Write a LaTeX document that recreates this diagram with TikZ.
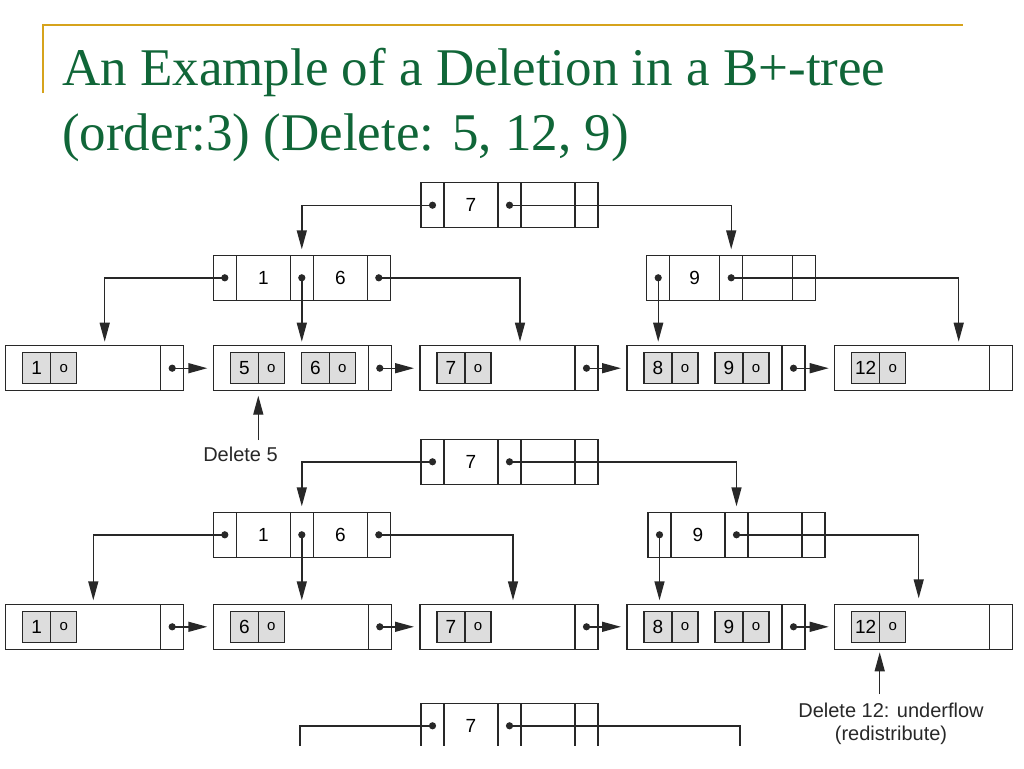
\documentclass[tikz,border=0pt]{standalone}
\usepackage{fontspec}
\setmainfont{Liberation Serif}
\newfontfamily\figfont{Liberation Sans}
\usetikzlibrary{positioning,arrows.meta}

\definecolor{titlegreen}{RGB}{16,102,56}
\definecolor{rulegold}{RGB}{214,163,28}
\definecolor{keygray}{RGB}{221,221,221}
\definecolor{inkgray}{RGB}{40,40,40}

\tikzset{
  cell/.style={draw=inkgray, line width=1.4pt, minimum height=45pt, inner sep=0pt, outer sep=0pt, font=\figfont\fontsize{19}{19}\selectfont},
  ptrcell/.style={cell, minimum width=23pt},
  keycell/.style={cell, minimum width=#1},
  keycell/.default=54pt,
  leafcell/.style={cell, minimum width=155pt},
  keypart/.style={draw=inkgray, fill=keygray, line width=1.3pt, minimum height=31pt, minimum width=28pt, inner sep=0pt, outer sep=0pt, font=\figfont\fontsize{19}{19}\selectfont},
  ptrpart/.style={keypart, minimum width=26pt, font=\figfont\fontsize{15}{15}\selectfont},
  link/.style={draw=inkgray, line width=1.4pt, -{Triangle[length=19pt,width=10pt]}},
  plainlink/.style={draw=inkgray, line width=1.4pt},
  note/.style={font=\figfont\fontsize{20}{23}\selectfont, text=inkgray, inner sep=0pt, align=center, anchor=north},
  titletext/.style={font=\fontsize{53}{65}\selectfont, text=titlegreen, anchor=base west, inner sep=0pt}
}

% inner node: [key width]{name}{x}{y}{key 1}{key 2}
\newcommand{\innode}[6][54pt]{%
  \node[ptrcell, anchor=north west] (#2a) at (#3,#4) {};
  \node[keycell=#1, right=0pt of #2a] (#2b) {#5};
  \node[ptrcell, right=0pt of #2b] (#2c) {};
  \node[keycell=#1, right=0pt of #2c] (#2d) {#6};
  \node[ptrcell, right=0pt of #2d] (#2e) {};
}
% leaf: {name}{x}{y}
\newcommand{\leafnode}[3]{%
  \node[leafcell, anchor=north west] (#1) at (#2,#3) {};
  \node[ptrcell, right=0pt of #1] (#1p) {};
}
% key with record pointer: {name}{leaf}{offset}{key}
\newcommand{\leafkey}[4]{%
  \node[keypart, right=#3 of #2.west] (#1) {#4};
  \node[ptrpart, right=0pt of #1] (#1o) {o};
}
\newcommand{\ptrdot}[1]{\fill[inkgray] (#1.center) circle (3.6pt);}

\begin{document}
\begin{tikzpicture}[x=1pt, y=-1pt]
\useasboundingbox (0,0) rectangle (1024,768);
\fill[white] (0,0) rectangle (1024,768);

% title
\draw[rulegold, line width=2pt] (42.7,93) -- (42.7,25) -- (963,25);
\node[titletext] (titleA) at (62,85) {An Example of a Deletion in a B+-tree};
\node[titletext] (titleB) at (62,150) {(order:3) (Delete: 5, 12, 9)};

% first tree
\innode{rA}{421}{182.7}{7}{}
\innode{bA}{213.3}{255.3}{1}{6}
\innode[50pt]{cA}{646.7}{255.3}{9}{}
\leafnode{lA1}{5.7}{345.7}
\leafnode{lA2}{213.3}{345.7}
\leafnode{lA3}{420}{345.7}
\leafnode{lA4}{627}{345.7}
\leafnode{lA5}{834.7}{345.7}
\leafkey{kA1a}{lA1}{17pt}{1}
\leafkey{kA2a}{lA2}{17pt}{5}
\leafkey{kA2b}{lA2}{88pt}{6}
\leafkey{kA3a}{lA3}{17pt}{7}
\leafkey{kA4a}{lA4}{17pt}{8}
\leafkey{kA4b}{lA4}{88pt}{9}
\leafkey{kA5a}{lA5}{17pt}{12}

\draw[link, shorten >=6pt] (rAa.center) -| (bAc.north);
\draw[link, shorten >=6pt] (rAc.center) -| (cAc.north);
\draw[link, shorten >=4pt] (bAa.center) -| ([xshift=99pt]lA1.north west);
\draw[link, shorten >=4pt] (bAc.center) -- (bAc.center |- lA2.north);
\draw[link, shorten >=4pt] (bAe.center) -| ([xshift=100pt]lA3.north west);
\draw[link, shorten >=4pt] (cAa.center) -- (cAa.center |- lA4.north);
\draw[link, shorten >=4pt] (cAc.center) -| ([xshift=124pt]lA5.north west);
\draw[link, shorten >=6pt] (lA1p.center) -- (lA2.west);
\draw[link, shorten >=6pt] (lA2p.center) -- (lA3.west);
\draw[link, shorten >=6pt] (lA3p.center) -- (lA4.west);
\draw[link, shorten >=6pt] (lA4p.center) -- (lA5.west);
\ptrdot{rAa} \ptrdot{rAc}
\ptrdot{bAa} \ptrdot{bAc} \ptrdot{bAe}
\ptrdot{cAa} \ptrdot{cAc}
\ptrdot{lA1p} \ptrdot{lA2p} \ptrdot{lA3p} \ptrdot{lA4p}

\node[note] (delfive) at (240.5,447) {Delete 5};
\draw[link, shorten <=7pt, shorten >=5pt] (delfive.north -| kA2a.east) -- (kA2a.east |- lA2.south);

% second tree
\innode{rB}{421}{439.3}{7}{}
\innode{bB}{213.3}{512.3}{1}{6}
\innode{cB}{648}{512.3}{9}{}
\leafnode{lB1}{5.7}{604.3}
\leafnode{lB2}{213.3}{604.3}
\leafnode{lB3}{420}{604.3}
\leafnode{lB4}{627}{604.3}
\leafnode{lB5}{834.7}{604.3}
\leafkey{kB1a}{lB1}{17pt}{1}
\leafkey{kB2a}{lB2}{17pt}{6}
\leafkey{kB3a}{lB3}{17pt}{7}
\leafkey{kB4a}{lB4}{17pt}{8}
\leafkey{kB4b}{lB4}{88pt}{9}
\leafkey{kB5a}{lB5}{17pt}{12}

\draw[link, shorten >=6pt] (rBa.center) -| (bBc.north);
\draw[link, shorten >=6pt] (rBc.center) -| (cBc.north);
\draw[link, shorten >=4pt] (bBa.center) -| ([xshift=87.6pt]lB1.north west);
\draw[link, shorten >=4pt] (bBc.center) -- (bBc.center |- lB2.north);
\draw[link, shorten >=4pt] (bBe.center) -| ([xshift=93pt]lB3.north west);
\draw[link, shorten >=4pt] (cBa.center) -- (cBa.center |- lB4.north);
\draw[link, shorten >=6pt] (cBc.center) -| ([xshift=84pt]lB5.north west);
\draw[link, shorten >=6pt] (lB1p.center) -- (lB2.west);
\draw[link, shorten >=6pt] (lB2p.center) -- (lB3.west);
\draw[link, shorten >=6pt] (lB3p.center) -- (lB4.west);
\draw[link, shorten >=6pt] (lB4p.center) -- (lB5.west);
\ptrdot{rBa} \ptrdot{rBc}
\ptrdot{bBa} \ptrdot{bBc} \ptrdot{bBe}
\ptrdot{cBa} \ptrdot{cBc}
\ptrdot{lB1p} \ptrdot{lB2p} \ptrdot{lB3p} \ptrdot{lB4p}

\node[note] (deltwelve) at (891,703) {Delete 12: underflow\\(redistribute)};
\draw[link, shorten <=9pt, shorten >=3pt] (deltwelve.north -| kB5a.east) -- (kB5a.east |- lB5.south);

% third tree, cut off at the bottom
\begin{scope}
\clip (0,0) rectangle (1024,745);
\innode{rC}{421}{703.3}{7}{}
\coordinate (bCtop) at (300,768);
\coordinate (cCtop) at (740,768);
\draw[plainlink] (rCa.center) -| (bCtop);
\draw[plainlink] (rCc.center) -| (cCtop);
\ptrdot{rCa} \ptrdot{rCc}
\end{scope}
\end{tikzpicture}
\end{document}
